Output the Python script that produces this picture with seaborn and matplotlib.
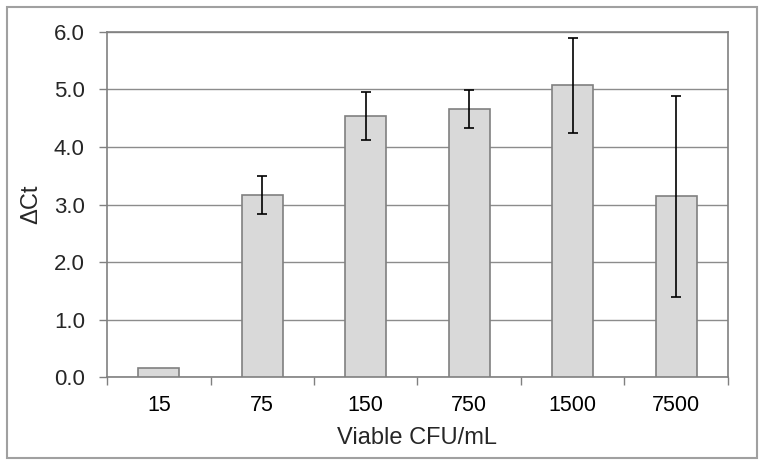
import matplotlib
matplotlib.use("Agg")
import matplotlib.pyplot as plt
import seaborn as sns
import pandas as pd
from matplotlib.patches import Rectangle

# Data
cfu = ["15", "75", "150", "750", "1500", "7500"]
delta_ct = [0.15, 3.17, 4.54, 4.66, 5.07, 3.14]
err = [0.0, 0.33, 0.42, 0.33, 0.83, 1.75]

def main():
    sns.set_style("white")
    plt.rcParams["font.family"] = ["Liberation Sans", "DejaVu Sans"]

    df = pd.DataFrame({"cfu": cfu, "dct": delta_ct, "err": err})

    fig = plt.figure(figsize=(7.65, 4.65), dpi=100)
    ax = fig.add_axes([0.1399, 0.1892, 0.9516 - 0.1399, 0.9312 - 0.1892])

    sns.barplot(data=df, x="cfu", y="dct", order=cfu, color="#d9d9d9",
                edgecolor="#808080", linewidth=1.2, width=0.4, saturation=1,
                errorbar=None, ax=ax, zorder=3)

    # error bars (skip the first, which has none)
    idx = [i for i, e in enumerate(err) if e > 0]
    ax.errorbar(idx, [delta_ct[i] for i in idx], yerr=[err[i] for i in idx],
                fmt="none", ecolor="black", elinewidth=1.2, capsize=3.3,
                capthick=1.2, zorder=4)

    ax.set_ylim(0, 6.0)
    ax.set_xlim(-0.5, len(cfu) - 0.5)
    ax.set_yticks([0, 1, 2, 3, 4, 5, 6])
    ax.set_yticklabels([f"{v:.1f}" for v in range(7)])
    ax.yaxis.grid(True, color="#8c8c8c", linewidth=1.0, zorder=0)
    ax.set_axisbelow(True)

    # category boundary ticks on x axis
    ax.set_xticks([i - 0.5 for i in range(len(cfu) + 1)], minor=False)
    ax.set_xticklabels([])
    ax.set_xticks(range(len(cfu)), minor=True)
    ax.set_xticklabels(cfu, minor=True)
    ax.tick_params(axis="x", which="major", length=6, width=1, color="#808080",
                   direction="out", bottom=True)
    ax.tick_params(axis="x", which="minor", length=0, labelsize=15.5, pad=13,
                   colors="black")
    ax.tick_params(axis="y", length=6, width=1, color="#808080", direction="out",
                   left=True, labelsize=16, pad=10)

    for sp in ax.spines.values():
        sp.set_color("#808080")
        sp.set_linewidth(1.2)
        sp.set_visible(True)

    ax.set_xlabel("Viable CFU/mL", fontsize=17, labelpad=8)
    ax.set_ylabel("ΔCt", fontsize=17, labelpad=8)

    # outer chart border
    fig.patches.append(Rectangle((0.0092, 0.015), 0.980, 0.970,
                                 transform=fig.transFigure, fill=False,
                                 edgecolor="#a0a0a0", linewidth=1.5))

    fig.savefig("out.png", dpi=100)

if __name__ == "__main__":
    main()
